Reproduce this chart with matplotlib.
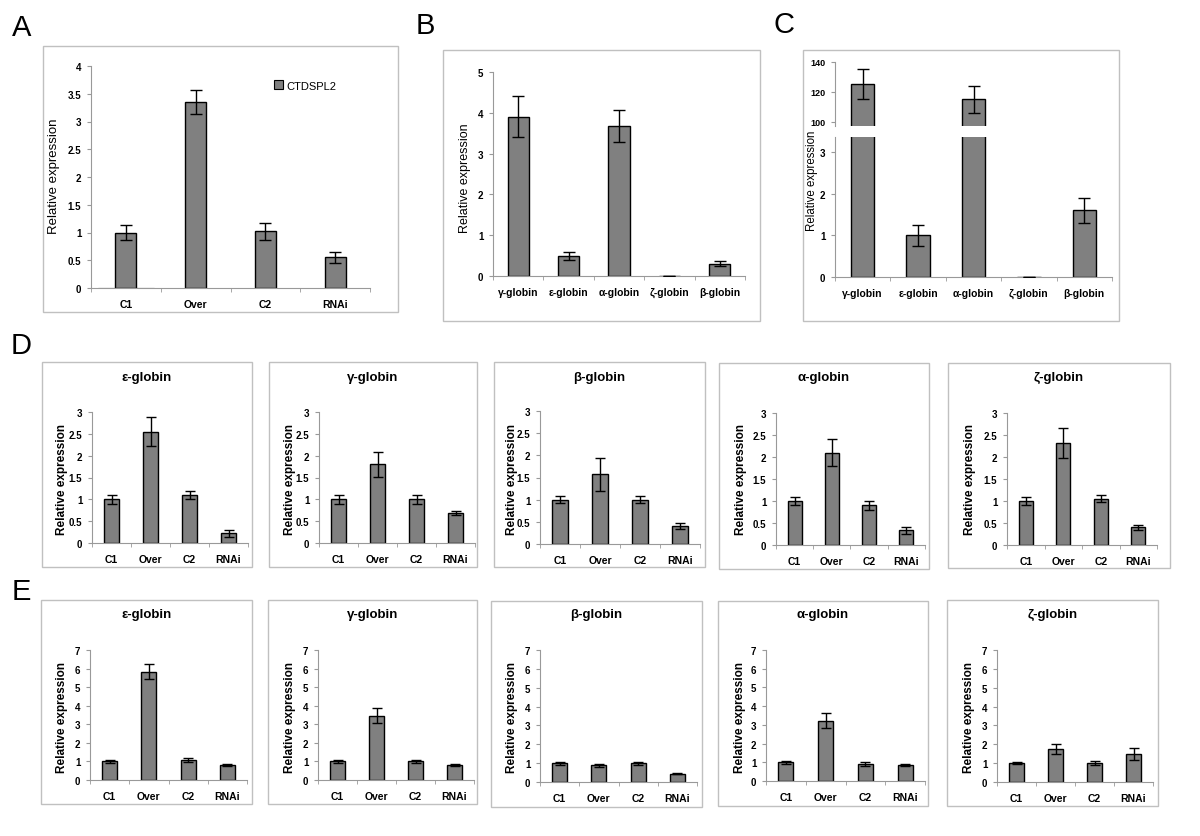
import numpy as np
import matplotlib
matplotlib.use("Agg")
import matplotlib.pyplot as plt
from matplotlib.patches import Rectangle

plt.rcParams['font.family'] = ['Liberation Sans', 'DejaVu Sans']

W, H = 1200, 837

# ---- data ----
groups = ["C1", "Over", "C2", "RNAi"]
globins_bc = ["γ-globin", "ε-globin", "α-globin", "ζ-globin", "β-globin"]

a_vals = [1.0, 3.35, 1.02, 0.55]
a_errs = [0.13, 0.22, 0.16, 0.1]

b_vals = [3.9, 0.5, 3.68, 0.005, 0.3]
b_errs = [0.5, 0.1, 0.4, 0.0, 0.06]

c_vals = [125, 1.0, 115, 0.005, 1.6]
c_errs = [10, 0.25, 9, 0.0, 0.3]

row_titles = ["ε-globin", "γ-globin", "β-globin", "α-globin", "ζ-globin"]

d_vals = [[1.0, 2.55, 1.1, 0.22],
          [1.0, 1.8, 1.0, 0.68],
          [1.0, 1.57, 1.0, 0.4],
          [1.0, 2.1, 0.9, 0.33],
          [1.0, 2.32, 1.05, 0.4]]
d_errs = [[0.1, 0.33, 0.1, 0.08],
          [0.1, 0.28, 0.1, 0.05],
          [0.08, 0.38, 0.08, 0.07],
          [0.1, 0.3, 0.1, 0.08],
          [0.09, 0.34, 0.08, 0.05]]

e_vals = [[1.0, 5.82, 1.08, 0.8],
          [1.0, 3.47, 1.0, 0.8],
          [1.0, 0.88, 1.0, 0.45],
          [1.0, 3.22, 0.92, 0.85],
          [1.0, 1.75, 1.02, 1.48]]
e_errs = [[0.07, 0.4, 0.1, 0.05],
          [0.07, 0.42, 0.07, 0.05],
          [0.08, 0.08, 0.08, 0.03],
          [0.08, 0.4, 0.12, 0.04],
          [0.07, 0.25, 0.1, 0.33]]

BAR = '#808080'
SPINE = '#999999'
BOX = '#c0c0c0'

fig = plt.figure(figsize=(W / 100, H / 100), dpi=100)


def ax_at(l, t, r, b):
    return fig.add_axes([l / W, 1 - b / H, (r - l) / W, (b - t) / H])


def box(l, t, r, b):
    fig.add_artist(Rectangle((l / W, 1 - b / H), (r - l) / W, (b - t) / H,
                             transform=fig.transFigure, fill=False,
                             ec=BOX, lw=1))


def ftext(x, y, s, **kw):
    fig.text(x / W, 1 - y / H, s, ha='center', va='center', **kw)


def style(ax, n, yticks, fs=7, xlabels=None):
    for s in ['top', 'right']:
        ax.spines[s].set_visible(False)
    for s in ['left', 'bottom']:
        ax.spines[s].set_color(SPINE)
        ax.spines[s].set_linewidth(0.8)
    ax.set_xlim(-0.5, n - 0.5)
    ax.set_yticks(yticks)
    ax.set_yticklabels(['%g' % v for v in yticks], fontsize=fs, fontweight='bold')
    ax.tick_params(axis='y', length=3, color=SPINE, pad=4)
    if xlabels is not None:
        ax.set_xticks(np.arange(n))
        ax.set_xticklabels(xlabels, fontsize=fs + 0.5, fontweight='bold')
        ax.tick_params(axis='x', which='major', length=0, pad=8)
        ax.set_xticks(np.arange(-0.5, n), minor=True)
        ax.tick_params(axis='x', which='minor', length=3, color=SPINE)
    else:
        ax.set_xticks([])


def bars(ax, vals, errs, width, cap=4):
    x = np.arange(len(vals))
    ax.bar(x, vals, width, color=BAR, edgecolor='black', linewidth=1, zorder=2)
    ax.errorbar(x, vals, yerr=errs, fmt='none', ecolor='black',
                elinewidth=1, capsize=cap, capthick=1, zorder=3)


# ---- panel A ----
box(43, 47, 398, 313)
ax = ax_at(91, 67, 370, 289)
bars(ax, a_vals, a_errs, 0.3)
ax.set_ylim(0, 4)
style(ax, 4, np.arange(0, 4.01, 0.5), xlabels=groups)
ax.bar([0], [0], color=BAR, edgecolor='black', linewidth=0.8, label='CTDSPL2')
ax.legend(loc='upper left', bbox_to_anchor=(0.62, 0.98), frameon=False,
          fontsize=8, handlelength=0.8, handleheight=0.8, handletextpad=0.3)
ftext(54, 176, "Relative expression", rotation=90, fontsize=9.5)
ftext(22, 28, "A", fontsize=21)

# ---- panel B ----
box(443, 51, 760, 322)
ax = ax_at(493, 73, 745, 277)
bars(ax, b_vals, b_errs, 0.42)
ax.set_ylim(0, 5)
style(ax, 5, np.arange(0, 6, 1), xlabels=globins_bc)
ftext(465, 178, "Relative expression", rotation=90, fontsize=9)
ftext(425, 26, "B", fontsize=21)

# ---- panel C (broken axis) ----
box(803, 51, 1119, 322)
ax_hi = ax_at(835, 63, 1112, 127)
ax_lo = ax_at(835, 138, 1112, 278)
for a in (ax_hi, ax_lo):
    bars(a, c_vals, c_errs, 0.42)
ax_hi.set_ylim(97.3, 140)
ax_lo.set_ylim(0, 3.36)
style(ax_hi, 5, [100, 120, 140], fs=6.5)
ax_hi.spines['bottom'].set_visible(False)
style(ax_lo, 5, [0, 1, 2, 3], xlabels=globins_bc)
ftext(812, 181, "Relative expression", rotation=90, fontsize=8.3)
ftext(784, 25, "C", fontsize=21)

# ---- rows D and E ----
d_boxes = [(42, 363, 252, 568), (269, 363, 477, 568), (494, 363, 705, 568),
           (719, 364, 929, 570), (948, 364, 1170, 569)]
d_axes = [(92, 413, 248, 544), (319, 413, 475, 544), (540, 412, 700, 545),
          (776, 414, 925, 546), (1007, 414, 1157, 546)]
d_lab_x = [62, 290, 512, 741, 970]

e_boxes = [(41, 601, 252, 805), (268, 601, 477, 805), (491, 602, 702, 808),
           (718, 602, 928, 807), (947, 601, 1158, 807)]
e_axes = [(90, 651, 247, 781), (318, 651, 474, 781), (540, 651, 697, 783),
          (766, 651, 925, 782), (997, 651, 1153, 783)]
e_lab_x = [62, 290, 512, 740, 969]

for i in range(5):
    bx = d_boxes[i]
    box(*bx)
    ax = ax_at(*d_axes[i])
    bars(ax, d_vals[i], d_errs[i], 0.38, cap=3.5)
    ax.set_ylim(0, 3)
    style(ax, 4, np.arange(0, 3.01, 0.5), xlabels=groups)
    ftext((bx[0] + bx[2]) / 2, 378, row_titles[i], fontsize=9.5, fontweight='bold')
    ftext(d_lab_x[i], 480, "Relative expression", rotation=90, fontsize=8.5,
          fontweight='bold')

    bx = e_boxes[i]
    box(*bx)
    ax = ax_at(*e_axes[i])
    bars(ax, e_vals[i], e_errs[i], 0.38, cap=3.5)
    ax.set_ylim(0, 7)
    style(ax, 4, np.arange(0, 8, 1), xlabels=groups)
    ftext((bx[0] + bx[2]) / 2, 615, row_titles[i], fontsize=9.5, fontweight='bold')
    ftext(e_lab_x[i], 718, "Relative expression", rotation=90, fontsize=8.5,
          fontweight='bold')

ftext(21, 346, "D", fontsize=21)
ftext(21, 592, "E", fontsize=21)

fig.savefig("out.png", dpi=100)
